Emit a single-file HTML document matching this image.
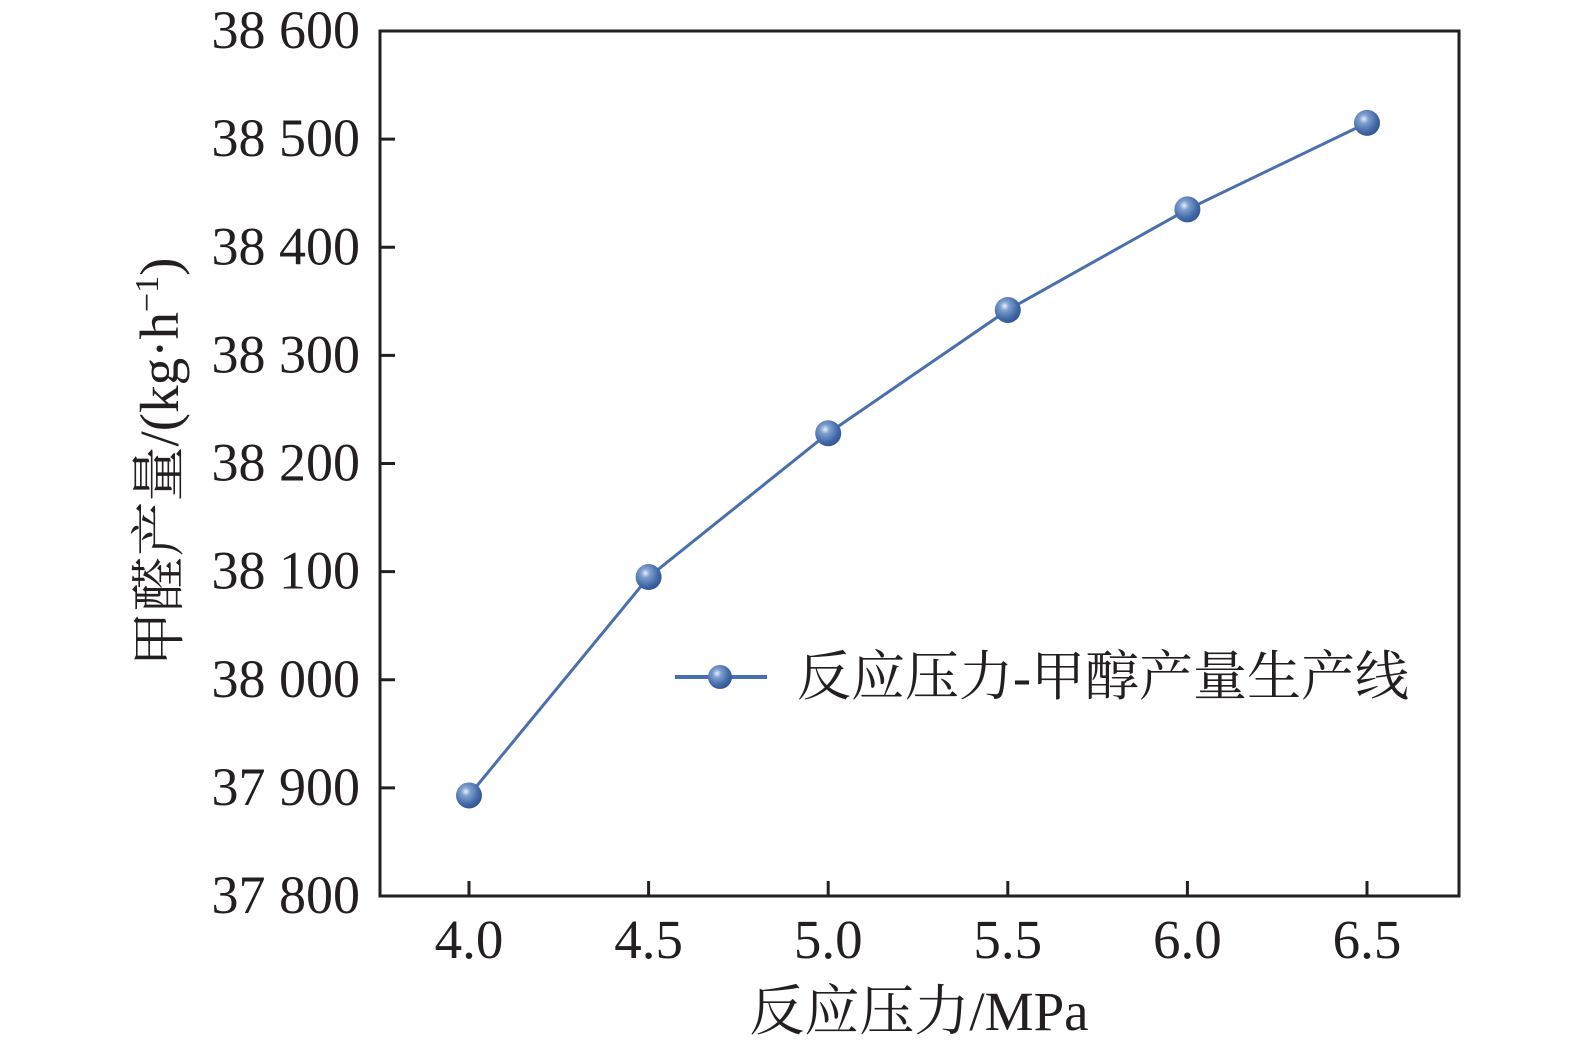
<!DOCTYPE html>
<html><head><meta charset="utf-8"><style>
html,body{margin:0;padding:0;background:#fff;}
svg text{font-family:"Liberation Serif","Noto Serif CJK SC",serif;fill:#231f20;}
</style></head><body>
<svg id="chart" width="1575" height="1050" xmlns="http://www.w3.org/2000/svg">
<defs>
<radialGradient id="ball" cx="0.38" cy="0.35" r="0.7">
<stop offset="0" stop-color="#e8f0fa"/><stop offset="0.25" stop-color="#7f9fcf"/><stop offset="0.7" stop-color="#4269a8"/><stop offset="1" stop-color="#2f528e"/>
</radialGradient>
</defs>
<g id="axes"></g>
<g id="series"></g>
<text x="919" y="1030" font-size="55" text-anchor="middle">反应压力/MPa</text>
<text transform="translate(178,462) rotate(-90)" font-size="55" text-anchor="middle">甲醛产量/(kg·h<tspan font-size="34" dy="-20">−1</tspan><tspan dy="20">)</tspan></text>
<g>
<line x1="675" y1="677" x2="767" y2="677" stroke="#4a6fad" stroke-width="4"/>
<circle cx="720" cy="677" r="12" fill="url(#ball)"/>
<text x="797" y="695" font-size="54">反应压力-甲醇产量生产线</text>
</g>
</svg>
<script>
const xCats = [4.0, 4.5, 5.0, 5.5, 6.0, 6.5];
const yValues = [37893, 38095, 38228, 38342, 38435, 38515];
const xTickLabels = ["4.0","4.5","5.0","5.5","6.0","6.5"];
const yTicks = [37800,37900,38000,38100,38200,38300,38400,38500,38600];
const yTickLabels = ["37 800","37 900","38 000","38 100","38 200","38 300","38 400","38 500","38 600"];

const L=380,R=1459,T=31,B=896;
const xs=v=>469+(v-4.0)/2.5*(1367-469);
const ys=v=>B-(v-37800)/800*(B-T);
const NS="http://www.w3.org/2000/svg";
const axes=document.getElementById('axes');
const series=document.getElementById('series');
function mk(tag,attrs,parent){const e=document.createElementNS(NS,tag);for(const k in attrs)e.setAttribute(k,attrs[k]);parent.appendChild(e);return e;}

const frame=mk('rect',{x:L,y:T,width:R-L,height:B-T,fill:'none',stroke:'#231f20','stroke-width':3},axes);



yTicks.forEach((v,i)=>{
  const y=ys(v);
  const t=mk('line',{x1:L,x2:L+15,y1:y,y2:y,stroke:'#231f20','stroke-width':3},axes);
  
  
  const lb=mk('text',{x:L-20,y:y+17,'font-size':54,'text-anchor':'end'},axes);
  lb.textContent=yTickLabels[i];
  
  
});
xCats.forEach((v,i)=>{
  const x=xs(v);
  const t=mk('line',{x1:x,x2:x,y1:B,y2:B-15,stroke:'#231f20','stroke-width':3},axes);
  
  
  const lb=mk('text',{x:x,y:B+62,'font-size':55,'text-anchor':'middle'},axes);
  lb.textContent=xTickLabels[i];
  
  
});

const pts=xCats.map((v,i)=>xs(v)+','+ys(yValues[i])).join(' ');
const line=mk('polyline',{points:pts,fill:'none',stroke:'#4a6fad','stroke-width':3},series);


xCats.forEach((v,i)=>{
  const c=mk('circle',{cx:xs(v),cy:ys(yValues[i]),r:13,fill:'url(#ball)'},series);
  
  
});
</script>
</body></html>
